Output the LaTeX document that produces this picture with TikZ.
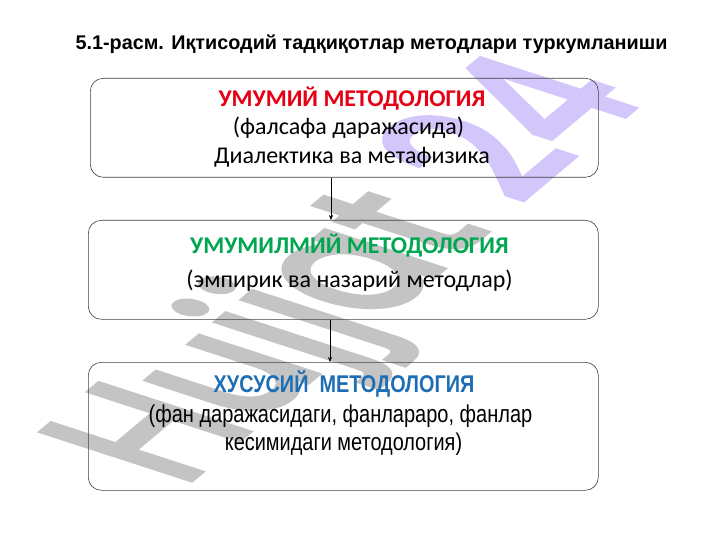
\documentclass[tikz,border=0pt]{standalone}
\usepackage{fontspec}
\setmainfont{Carlito}
\newfontfamily\titlefont{Liberation Sans}
\newfontfamily\narrowfont[FakeStretch=0.82]{Liberation Sans}
\newfontfamily\wmfont[FakeBold=3.5]{Poppins}
\usetikzlibrary{arrows.meta}
\definecolor{redH}{RGB}{230,0,20}
\definecolor{greenH}{RGB}{0,166,80}
\definecolor{blueH}{RGB}{30,110,180}
\definecolor{wmgray}{RGB}{196,196,196}
\definecolor{wmlav}{RGB}{210,198,250}
\tikzset{
  box/.style={draw=black!75, line width=0.6pt, rounded corners=13pt, anchor=north west, inner sep=0pt},
  txt/.style={inner sep=0pt, anchor=base, align=center},
  arr/.style={draw=black, line width=0.5pt, -{Stealth[length=5pt,width=4pt]}}
}
\begin{document}
\begin{tikzpicture}[x=1pt,y=-1pt]
\useasboundingbox (0,0) rectangle (720,540);
\fill[white] (0,0) rectangle (720,540);
\node[inner sep=0pt, anchor=base west, rotate=40, xslant=-0.625, yscale=1.35, transform shape, font=\wmfont\fontsize{140}{140}\selectfont] (wm) at (182,487) {\textcolor{wmgray}{Hujjat} \textcolor{wmlav}{24}};
\node[box, minimum width=508pt, minimum height=99pt] (b1) at (90,78) {};
\node[box, minimum width=510pt, minimum height=99pt] (b2) at (88,220) {};
\node[box, minimum width=510pt, minimum height=128pt] (b3) at (88,362) {};
\node[txt, font=\titlefont\bfseries\fontsize{19.8}{22}\selectfont] (title) at (371.5,50) {5.1-расм. Иқтисодий тадқиқотлар методлари туркумланиши};
\coordinate (c1) at (331,200);
\coordinate (c2) at (330,340);
\draw[arr] (c1 |- b1.south) -- (c1 |- b2.north);
\draw[arr] (c2 |- b2.south) -- (c2 |- b3.north);
\node[txt, font=\bfseries\fontsize{24}{28}\selectfont, text=redH] (t1a) at (352,107) {УМУМИЙ МЕТОДОЛОГИЯ};
\node[txt, font=\fontsize{24}{28}\selectfont] (t1b) at (348.5,135) {(фалсафа даражасида)};
\node[txt, font=\fontsize{24}{28}\selectfont] (t1c) at (352,164) {Диалектика ва метафизика};
\node[txt, font=\bfseries\fontsize{24}{28}\selectfont, text=greenH] (t2a) at (349.5,253) {УМУМИЛМИЙ МЕТОДОЛОГИЯ};
\node[txt, font=\fontsize{24}{28}\selectfont] (t2b) at (349.5,287) {(эмпирик ва назарий методлар)};
\node[txt, font=\narrowfont\bfseries\fontsize{24.2}{28}\selectfont, text=blueH] (t3a) at (344,392) {ХУСУСИЙ \ МЕТОДОЛОГИЯ};
\node[txt, font=\narrowfont\fontsize{24.4}{28}\selectfont] (t3b) at (340.5,422) {(фан даражасидаги, фанлараро, фанлар};
\node[txt, font=\narrowfont\fontsize{24.3}{28}\selectfont] (t3c) at (343.5,450) {кесимидаги методология)};
\end{tikzpicture}
\end{document}
